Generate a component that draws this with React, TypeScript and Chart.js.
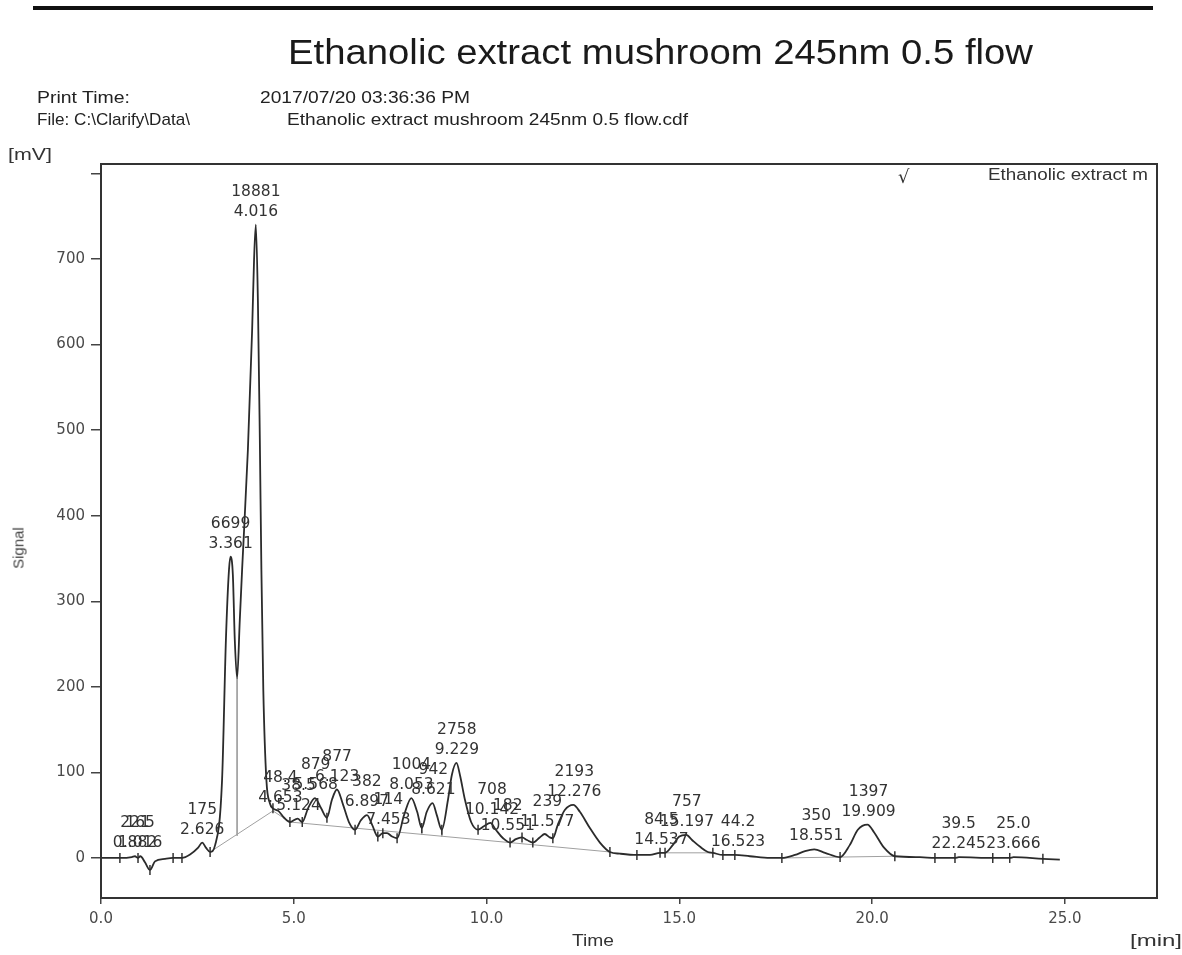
import React, { useEffect, useLayoutEffect, useRef } from 'react';
import { Chart, registerables } from 'chart.js';

Chart.register(...registerables);

// ---- chromatogram trace (time in min, signal in mV) ----
const SIGNAL_T = [
  0.0, 0.49, 0.8, 0.88, 0.96, 1.02, 1.14, 1.27, 1.4, 1.66, 1.87, 2.1, 2.31, 2.52, 2.626, 2.72, 2.83, 2.96,
  3.14, 3.24, 3.32, 3.361, 3.42, 3.47, 3.53, 3.6, 3.66, 3.81, 3.92, 3.97, 4.016, 4.07, 4.12, 4.16, 4.21,
  4.29, 4.38, 4.46, 4.6, 4.75, 4.9, 5.1, 5.22, 5.37, 5.55, 5.71, 5.86, 5.99, 6.12, 6.28, 6.43, 6.59, 6.74,
  6.9, 7.03, 7.18, 7.31, 7.42, 7.55, 7.68, 7.86, 8.05, 8.2, 8.32, 8.45, 8.6, 8.71, 8.84, 9.0, 9.1, 9.22,
  9.31, 9.44, 9.6, 9.78, 9.93, 10.1, 10.24, 10.43, 10.61, 10.76, 10.92, 11.05, 11.2, 11.38, 11.51, 11.64,
  11.72, 11.85, 12.03, 12.25, 12.42, 12.68, 12.94, 13.2, 13.46, 13.9, 14.24, 14.5, 14.63, 14.83, 15.0,
  15.18, 15.33, 15.54, 15.74, 15.87, 16.13, 16.44, 16.83, 17.35, 17.66, 18.0, 18.26, 18.5, 18.78, 19.17,
  19.42, 19.63, 19.88, 20.05, 20.31, 20.59, 21.24, 21.63, 22.15, 22.25, 23.13, 23.57, 23.67, 24.43, 24.87,
];
const SIGNAL_V = [
  0, 0, 1, 2, 0, 2, -5, -14, -4, -1, 0, 0, 4, 12, 18, 12, 7, 15,
  91, 255, 337, 352, 331, 255, 210, 278, 337, 477, 617, 699, 740, 650, 488, 337, 196,
  91, 64, 58, 55, 47, 42, 46, 42, 58, 70, 58, 47, 68, 80, 62, 42, 33, 44,
  50, 39, 25, 29, 29, 25, 23, 50, 70, 54, 35, 54, 64, 50, 33, 68, 97, 111,
  97, 68, 42, 33, 37, 41, 33, 23, 18, 22, 24, 21, 18, 24, 28, 24,
  23, 39, 56, 62, 54, 35, 18, 7, 5, 3.5, 3.5, 6, 6, 15, 25,
  27, 21, 13, 7, 6, 3.5, 3.5, 2, 0, 0, 3.5, 8, 10, 6, 1,
  15, 33, 39, 30, 12, 2, 1, 0, 0, 1, 0, 0, 1, -1, -2,
];

// ---- integrated peaks ----
const PEAK_T = [
  0.882, 1.016, 2.626, 3.361, 4.016, 4.653, 5.124, 5.568, 6.123, 6.897, 7.453, 8.053, 8.621, 9.229,
  10.142, 10.551, 11.577, 12.276, 14.537, 15.197, 16.523, 18.551, 19.909, 22.245, 23.666,
];
const PEAK_V = [
  2, 2, 18, 352, 740, 55, 46, 70, 80, 50, 29, 70, 64, 111,
  41, 22, 27, 62, 6, 27, 3.5, 10, 39, 1, 1,
];
const PEAK_AREA = [
  '221', '165', '175', '6699', '18881', '48.4', '38.5', '879', '877', '382', '114', '1004', '942', '2758',
  '708', '182', '239', '2193', '84.5', '757', '44.2', '350', '1397', '39.5', '25.0',
];

// ---- peak start / end markers ----
const MARK_T = [
  0.49, 0.96, 1.27, 1.87, 2.1, 2.83, 4.46, 4.9, 5.22, 5.86, 6.59, 7.18, 7.31, 7.68, 8.32, 8.84, 9.78,
  10.61, 10.92, 11.2, 11.72, 13.2, 13.9, 14.5, 14.63, 15.87, 16.13, 16.44, 17.66, 19.17, 20.59, 21.63,
  22.15, 23.13, 23.57, 24.43,
];
const MARK_V = [
  0, 0, -14, 0, 0, 7, 58, 42, 42, 47, 33, 25, 29, 23, 35, 33, 33,
  18, 24, 18, 23, 7, 3.5, 6, 6, 6, 3.5, 3.5, 0, 1, 2, 0,
  0, 0, 0, -1,
];

// ---- integration baseline (null = gap) ----
const BASE_T = [2.83, 4.46, 4.9, 13.2, 13.3, 14.63, 15.87, 16.0, 17.66, 20.59];
const BASE_V = [7, 55, 42, 7, null, 6, 6, null, 0, 2];

// ---- drop lines (valley to baseline) ----
const DROP_T = [3.53, 8.32, 8.84];
const DROP_TOP = [210, 35, 33];
const DROP_BOT = [26, 27, 25];

const X_TICKS = [0, 5, 10, 15, 20, 25];
const Y_TICKS = [0, 100, 200, 300, 400, 500, 600, 700, 800];
const X_MIN = 0;
const X_MAX = 27.39;
const Y_MIN = -46.8;
const Y_MAX = 811;

const overlayPlugin = {
  id: 'overlay',
  afterDatasetsDraw(chart: any) {
    const { ctx, chartArea: a, scales } = chart;
    const x = scales.x;
    const y = scales.y;
    ctx.save();
    ctx.strokeStyle = '#333';
    ctx.lineWidth = 2;
    ctx.strokeRect(a.left, a.top, a.right - a.left, a.bottom - a.top);
    ctx.fillStyle = '#333';
    ctx.font = '15.5px "DejaVu Sans", Verdana, sans-serif';
    ctx.textAlign = 'center';
    ctx.textBaseline = 'alphabetic';
    PEAK_T.forEach((t, i) => {
      const px = x.getPixelForValue(t);
      const py = y.getPixelForValue(PEAK_V[i]);
      ctx.fillText(t.toFixed(3), px, py - 9);
      ctx.fillText(PEAK_AREA[i], px, py - 29);
    });
    ctx.restore();
  },
};

function FitText(props: { text: string; x: number; cy: number; w: number; fs: number; color?: string }) {
  const { text, x, cy, w, fs, color = '#222' } = props;
  const ref = useRef<HTMLSpanElement>(null);
  useLayoutEffect(() => {
    const el = ref.current;
    if (!el) return;
    el.style.transform = 'none';
    const nat = el.getBoundingClientRect().width;
    if (nat > 0) el.style.transform = `scaleX(${w / nat})`;
  }, [text, w, fs]);
  return (
    <span
      ref={ref}
      style={{
        position: 'absolute',
        left: x,
        top: cy - fs * 0.6,
        fontSize: fs,
        lineHeight: `${fs * 1.2}px`,
        fontFamily: '"Liberation Sans", Arial, sans-serif',
        color,
        whiteSpace: 'nowrap',
        transformOrigin: '0 50%',
        display: 'inline-block',
      }}
    >
      {text}
    </span>
  );
}

export default function App() {
  const canvasRef = useRef<HTMLCanvasElement>(null);

  useEffect(() => {
    const canvas = canvasRef.current;
    if (!canvas) return;
    const tickFont = { family: '"DejaVu Sans", Verdana, sans-serif', size: 15 };
    const datasets: any[] = [
      {
        label: 'Ethanolic extract m',
        data: SIGNAL_T.map((t, i) => ({ x: t, y: SIGNAL_V[i] })),
        borderColor: '#2b2b2b',
        borderWidth: 1.8,
        pointRadius: 0,
        cubicInterpolationMode: 'monotone',
        fill: false,
      },
      {
        label: 'markers',
        data: MARK_T.map((t, i) => ({ x: t, y: MARK_V[i] })),
        showLine: false,
        pointStyle: 'line',
        rotation: 90,
        pointRadius: 5,
        borderColor: '#333',
        borderWidth: 1.5,
      },
      {
        label: 'baseline',
        data: BASE_T.map((t, i) => ({ x: t, y: BASE_V[i] })),
        borderColor: '#a0a0a0',
        borderWidth: 1,
        pointRadius: 0,
        spanGaps: false,
      },
      ...DROP_T.map((t, i) => ({
        label: 'drop' + i,
        data: [
          { x: t, y: DROP_TOP[i] },
          { x: t, y: DROP_BOT[i] },
        ],
        borderColor: '#a0a0a0',
        borderWidth: 1,
        pointRadius: 0,
      })),
    ];

    const chart = new Chart(canvas, {
      type: 'line',
      data: { datasets },
      plugins: [overlayPlugin],
      options: {
        responsive: false,
        animation: false,
        devicePixelRatio: 1,
        layout: { padding: { top: 164, right: 25, left: 0, bottom: 0 } },
        plugins: { legend: { display: false }, tooltip: { enabled: false }, title: { display: false } },
        elements: { point: { radius: 0 } },
        scales: {
          x: {
            type: 'linear',
            min: X_MIN,
            max: X_MAX,
            afterBuildTicks: (s: any) => {
              s.ticks = X_TICKS.map((v) => ({ value: v }));
            },
            afterFit: (s: any) => {
              s.height = 57;
            },
            ticks: {
              callback: (v: any) => Number(v).toFixed(1),
              font: tickFont,
              color: '#4a4a4a',
              padding: 6,
              maxRotation: 0,
              autoSkip: false,
            },
            grid: { drawOnChartArea: false, drawTicks: true, tickLength: 6, color: '#444', lineWidth: 1.5 },
            border: { display: false },
          },
          y: {
            type: 'linear',
            min: Y_MIN,
            max: Y_MAX,
            afterBuildTicks: (s: any) => {
              s.ticks = Y_TICKS.map((v) => ({ value: v }));
            },
            afterFit: (s: any) => {
              s.width = 101;
            },
            ticks: {
              callback: (v: any) => (Number(v) === 800 ? '' : String(v)),
              font: tickFont,
              color: '#4a4a4a',
              padding: 6,
              autoSkip: false,
            },
            grid: { drawOnChartArea: false, drawTicks: true, tickLength: 10, color: '#444', lineWidth: 1.5 },
            border: { display: false },
          },
        },
      } as any,
    });
    return () => chart.destroy();
  }, []);

  return (
    <div
      style={{
        position: 'absolute',
        left: 0,
        top: 0,
        width: 1182,
        height: 955,
        background: '#fff',
        overflow: 'hidden',
      }}
    >
      <canvas
        ref={canvasRef}
        width={1182}
        height={955}
        style={{ position: 'absolute', left: 0, top: 0, width: 1182, height: 955, display: 'block' }}
      />
      <div style={{ position: 'absolute', left: 33, top: 6, width: 1120, height: 4, background: '#111' }} />
      <FitText text="Ethanolic extract mushroom 245nm 0.5 flow" x={288} cy={52} w={745} fs={35} color="#1a1a1a" />
      <FitText text="Print Time:" x={37} cy={98} w={93} fs={17} />
      <FitText text="2017/07/20 03:36:36 PM" x={260} cy={98} w={210} fs={17} />
      <FitText text={'File: C:\\Clarify\\Data\\'} x={37} cy={120} w={153} fs={17} />
      <FitText text="Ethanolic extract mushroom 245nm 0.5 flow.cdf" x={287} cy={120} w={401} fs={17} />
      <FitText text="[mV]" x={8} cy={155} w={44} fs={16} color="#333" />
      <span
        style={{
          position: 'absolute',
          left: 898,
          top: 166,
          fontSize: 18,
          lineHeight: '22px',
          fontFamily: '"DejaVu Sans", sans-serif',
          color: '#333',
        }}
      >
        √
      </span>
      <FitText text="Ethanolic extract m" x={988} cy={175} w={160} fs={16} color="#333" />
      <span
        style={{
          position: 'absolute',
          left: 18,
          top: 548,
          transform: 'translate(-50%, -50%) rotate(-90deg)',
          fontSize: 15,
          fontFamily: '"Liberation Sans", Arial, sans-serif',
          color: '#444',
          whiteSpace: 'nowrap',
        }}
      >
        Signal
      </span>
      <FitText text="Time" x={572} cy={941} w={42} fs={16} color="#333" />
      <FitText text="[min]" x={1130} cy={941} w={52} fs={16} color="#333" />
    </div>
  );
}
